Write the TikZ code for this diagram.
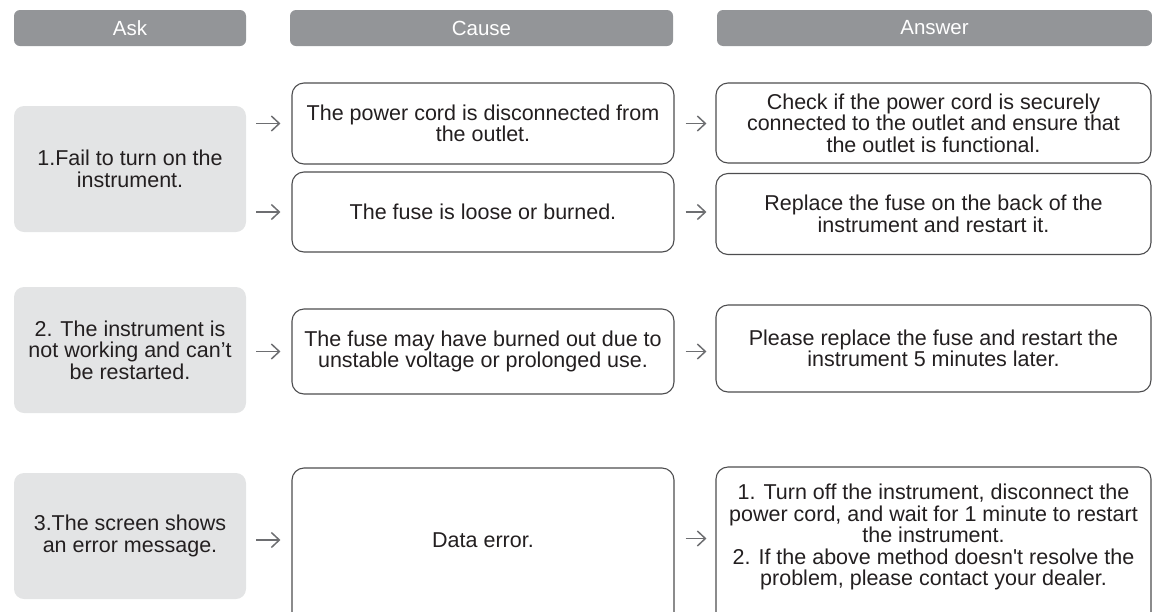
\documentclass[tikz,border=0pt]{standalone}
\usepackage{fontspec}
\setmainfont{Liberation Sans}
\usetikzlibrary{arrows.meta,calc}
\definecolor{hdr}{HTML}{939598}
\definecolor{askbg}{HTML}{E3E4E5}
\definecolor{bord}{HTML}{4D4D4F}
\definecolor{arrcol}{HTML}{6D6E71}
\definecolor{txt}{HTML}{231F20}
\begin{document}
\begin{tikzpicture}[x=1pt,y=-1pt,
  hdrbox/.style={fill=hdr, rounded corners=6pt, text=white, font=\fontsize{20.5}{21}\selectfont, inner sep=0pt, minimum height=36pt},
  askbox/.style={fill=askbg, rounded corners=10pt, align=center, text=txt, font=\fontsize{21.5}{21.5}\selectfont, inner sep=0pt, minimum width=232pt, minimum height=126pt},
  causebox/.style={draw=bord, line width=1.1pt, fill=white, rounded corners=12pt, align=center, text=txt, font=\fontsize{21.5}{21.5}\selectfont, inner sep=0pt, minimum width=382pt},
  ansbox/.style={draw=bord, line width=1.1pt, fill=white, rounded corners=12pt, align=center, text=txt, font=\fontsize{21.5}{21.5}\selectfont, inner sep=0pt, minimum width=435pt},
  flowarrow/.style={draw=arrcol, line width=1.5pt, -{Straight Barb[length=8pt,width=15pt,line width=1.5pt]}}
]
\useasboundingbox (0,0) rectangle (1152,611);

% headers
\node[hdrbox, minimum width=232pt] (hask) at (130,28) {Ask};
\node[hdrbox, minimum width=383pt] (hcause) at (481.5,28) {Cause};
\node[hdrbox, minimum width=435pt] (hans) at (934.5,28) {Answer};

% ask column
\node[askbox] (q1) at (130,169) {1.Fail to turn on the\\instrument.};
\node[askbox] (q2) at (130,350) {2. The instrument is\\not working and can’t\\be restarted.};
\node[askbox] (q3) at (130,536) {3.The screen shows\\an error message.};

% cause column
\node[causebox, minimum height=81pt] (c1) at (483,123.5) {The power cord is disconnected from\\the outlet.};
\node[causebox, minimum height=80pt] (c2) at (483,212) {The fuse is loose or burned.};
\node[causebox, minimum height=85pt] (c3) at (483,351.5) {The fuse may have burned out due to\\unstable voltage or prolonged use.};
\node[causebox, minimum height=157pt, text depth=13pt] (c4) at (483,546.5) {Data error.};

% answer column
\node[ansbox, minimum height=80pt] (a1) at (933.5,123) {Check if the power cord is securely\\connected to the outlet and ensure that\\the outlet is functional.};
\node[ansbox, minimum height=81pt] (a2) at (933.5,214) {Replace the fuse on the back of the\\instrument and restart it.};
\node[ansbox, minimum height=87pt] (a3) at (933.5,348.5) {Please replace the fuse and restart the\\instrument 5 minutes later.};
\node[ansbox, minimum height=158pt, text depth=22.5pt] (a4) at (933.5,546) {1. Turn off the instrument, disconnect the\\power cord, and wait for 1 minute to restart\\the instrument.\\2. If the above method doesn\textquotesingle t resolve the\\problem, please contact your dealer.};

% arrows ask -> cause
\foreach \q/\c in {q1/c1, q1/c2, q2/c3}{
  \draw[flowarrow] ($(\q.east |- \c.west)+(10,0)$) -- ($(\c.west)+(-11,0)$);
}
\draw[flowarrow] ($(q3.east |- c4.west)+(10,-6.5)$) -- ($(c4.west)+(-11,-6.5)$);
% arrows cause -> answer
\foreach \c/\a in {c1/a1, c2/a2, c3/a3}{
  \draw[flowarrow] ($(\c.east)+(11,0)$) -- ($(\c.east -| \a.west)+(-9,0)$);
}
\draw[flowarrow] ($(c4.east)+(11,-8)$) -- ($(c4.east -| a4.west)+(-9,-8)$);
\end{tikzpicture}
\end{document}
